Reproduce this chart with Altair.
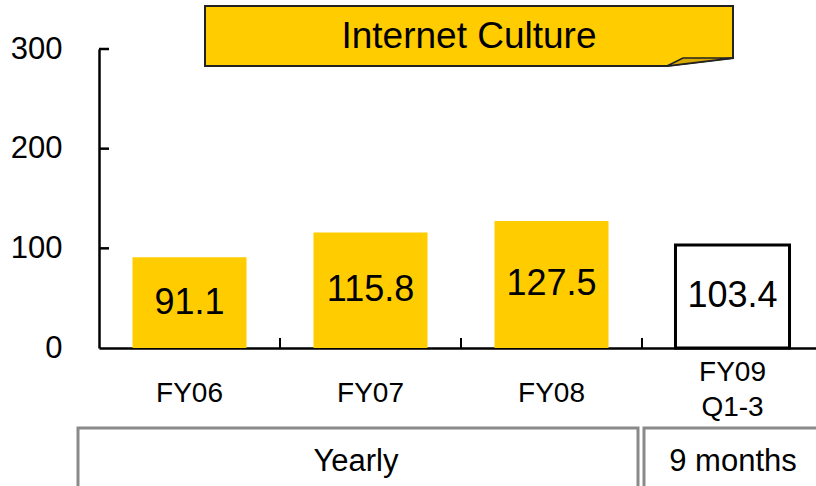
import altair as alt
import pandas as pd

# ---- data ----
categories = ["FY06", "FY07", "FY08", "FY09\nQ1-3"]
values = [91.1, 115.8, 127.5, 103.4]
kinds = ["Yearly", "Yearly", "Yearly", "9 months"]
y_ticks = [0, 100, 200, 300]
title_text = "Internet Culture"
groups = ["Yearly", "9 months"]

# ---- style ----
F = "Liberation Sans"
YELLOW = "#FFCC00"
FOLD = "#D6A800"
GRAY = "#8a8a8a"

df = pd.DataFrame({"cat": categories, "value": values, "kind": kinds})

xscale = alt.Scale(domain=categories, range=[0, 724], paddingInner=0, paddingOuter=0)
yscale = alt.Scale(domain=[0, 300], nice=False, zero=True)

bars = alt.Chart(df).mark_bar(width={"band": 0.63}, stroke="black").encode(
    x=alt.X("cat:N", scale=xscale, sort=categories, title=None,
            axis=alt.Axis(labelAngle=0, labelFont=F, labelFontSize=28, labelColor="black",
                          labelPadding={"condition": {"test": "indexof(datum.value, 'Q1') >= 0", "value": 24},
                                        "value": 45},
                          labelBaseline="middle", labelLineHeight=35,
                          ticks=False, domainColor="black", domainWidth=2.5,
                          labelExpr="split(datum.label, '\\n')")),
    y=alt.Y("value:Q", scale=yscale, title=None,
            axis=alt.Axis(values=y_ticks, labelFont=F, labelFontSize=31, labelColor="black",
                          labelPadding=37, ticks=False, grid=False,
                          domainColor="black", domainWidth=2.5)),
    fill=alt.Fill("kind:N", scale=alt.Scale(domain=groups, range=[YELLOW, "white"]), legend=None),
    strokeWidth=alt.StrokeWidth("kind:N", scale=alt.Scale(domain=groups, range=[0, 3]), legend=None),
)

labels = alt.Chart(df).transform_calculate(mid="datum.value / 2").mark_text(
    font=F, fontSize=36, baseline="middle", color="black"
).encode(
    x=alt.X("cat:N", scale=xscale, sort=categories, axis=None),
    y=alt.Y("mid:Q", scale=yscale, axis=None),
    text=alt.Text("value:Q", format=".1f"),
)

dividers = alt.Chart(pd.DataFrame({"cat": categories[1:]})).mark_rule(
    color="black", strokeWidth=2
).encode(
    x=alt.X("cat:N", scale=xscale, bandPosition=0, axis=None),
    y=alt.value(289), y2=alt.value(299),
)

yticks = alt.Chart(pd.DataFrame({"t": y_ticks[1:]})).mark_rule(
    color="black", strokeWidth=2.5
).encode(
    y=alt.Y("t:Q", scale=yscale, axis=None),
    x=alt.value(0), x2=alt.value(10),
)

# ---- banner (decoration geometry in pixels) ----
banner_shape = pd.DataFrame({"px": [106, 568, 634], "top": [-43, -43, -43], "bot": [17, 17, 9]})
fold_shape = pd.DataFrame({"px": [568, 584, 634], "top": [17, 9, 9], "bot": [17, 15, 9]})

banner = alt.Chart(banner_shape).mark_area(fill=YELLOW, stroke="#222222", strokeWidth=2).encode(
    x=alt.X("px:Q", scale=None, axis=None),
    y=alt.Y("top:Q", scale=None, axis=None),
    y2="bot:Q",
)
fold = alt.Chart(fold_shape).mark_area(fill=FOLD, stroke="#222222", strokeWidth=1.5).encode(
    x=alt.X("px:Q", scale=None, axis=None),
    y=alt.Y("top:Q", scale=None, axis=None),
    y2="bot:Q",
)
title = alt.Chart(pd.DataFrame({"t": [title_text]})).mark_text(
    font=F, fontSize=37, color="black", baseline="middle", align="center"
).encode(text="t:N", x=alt.value(370), y=alt.value(-12))

# ---- group boxes ----
box1 = alt.Chart(pd.DataFrame({"g": [groups[0]]})).mark_rect(
    fillOpacity=0, stroke=GRAY, strokeWidth=3
).encode(x=alt.value(-21), x2=alt.value(539), y=alt.value(379), y2=alt.value(460))
box2 = alt.Chart(pd.DataFrame({"g": [groups[1]]})).mark_rect(
    fillOpacity=0, stroke=GRAY, strokeWidth=3
).encode(x=alt.value(545), x2=alt.value(760), y=alt.value(379), y2=alt.value(460))
g1 = alt.Chart(pd.DataFrame({"g": [groups[0]]})).mark_text(
    font=F, fontSize=31, color="black", baseline="middle", align="center"
).encode(text="g:N", x=alt.value(257), y=alt.value(413))
g2 = alt.Chart(pd.DataFrame({"g": [groups[1]]})).mark_text(
    font=F, fontSize=31, color="black", baseline="middle", align="center"
).encode(text="g:N", x=alt.value(634), y=alt.value(413))

chart = alt.layer(
    box1, box2, g1, g2, banner, fold, title, bars, labels, dividers, yticks
).resolve_scale(x="independent", y="independent").properties(
    width=717, height=299,
    padding={"left": 99, "top": 49, "right": 0, "bottom": 138},
    autosize=alt.AutoSizeParams(type="none"),
).configure_view(stroke=None)

chart.save("out.html", embed_options={"renderer": "svg", "actions": False})
